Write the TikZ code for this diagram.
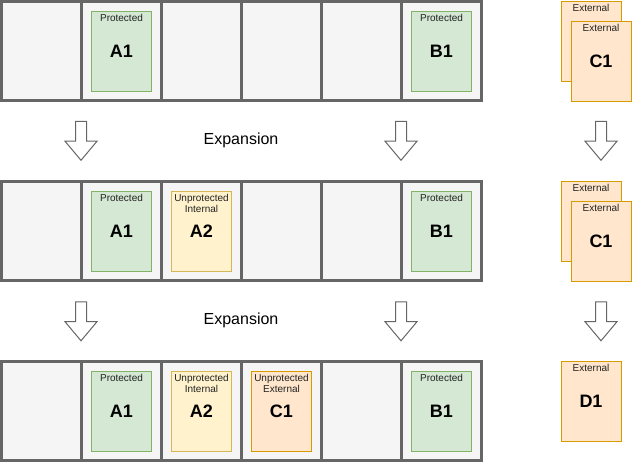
\documentclass[tikz,border=0pt]{standalone}
\usepackage{fontspec}
\setmainfont{Liberation Sans}
\usetikzlibrary{positioning}
\usetikzlibrary{shapes.arrows}
\definecolor{cellfill}{HTML}{F5F5F5}
\definecolor{celldraw}{HTML}{666666}
\definecolor{protfill}{HTML}{D5E8D4}
\definecolor{protdraw}{HTML}{82B366}
\definecolor{intfill}{HTML}{FFF2CC}
\definecolor{intdraw}{HTML}{D6B656}
\definecolor{extfill}{HTML}{FFE6CC}
\definecolor{extdraw}{HTML}{D79B00}
\definecolor{tagtext}{HTML}{222222}
\tikzstyle{cell} = [draw=celldraw,fill=cellfill,line width=3pt,rectangle,minimum width=80pt,minimum height=99pt,inner sep=0pt]
\tikzstyle{card} = [rectangle,line width=1pt,minimum width=60pt,minimum height=80pt,inner sep=0pt,font=\fontsize{18}{20}\selectfont\bfseries]
\tikzstyle{prot} = [card,draw=protdraw,fill=protfill]
\tikzstyle{int} = [card,draw=intdraw,fill=intfill]
\tikzstyle{ext} = [card,draw=extdraw,fill=extfill]
\tikzstyle{tag} = [inner sep=0pt,align=center,text=tagtext,font=\fontsize{10}{11}\selectfont]
\tikzstyle{blockarrow} = [single arrow,draw=celldraw,fill=white,line width=1pt,rotate=-90,
  inner xsep=0pt,inner ysep=5pt,minimum height=39pt,minimum width=31pt,
  single arrow head extend=10.5pt,single arrow tip angle=80]

\begin{document}
\begin{tikzpicture}[x=1pt,y=-1pt]
\useasboundingbox (0,0) rectangle (632,463);

% the three rows of slots
\foreach \r/\y in {1/51,2/231,3/411} {
  \foreach \c in {1,...,6} {
    \node[cell] (r\r c\c) at ({80*\c-38.5},\y) {};
  }
}

% row 1
\node[prot] (a1one) at (r1c2) {A1};
\node[tag, below=3.5pt of a1one.north] (a1onetag) {Protected};
\node[prot] (b1one) at (r1c6) {B1};
\node[tag, below=3.5pt of b1one.north] (b1onetag) {Protected};

% row 2
\node[prot] (a1two) at (r2c2) {A1};
\node[tag, below=3.5pt of a1two.north] (a1twotag) {Protected};
\node[int] (a2two) at (r2c3) {A2};
\node[tag, below=3.5pt of a2two.north] (a2twotag) {Unprotected\\Internal};
\node[prot] (b1two) at (r2c6) {B1};
\node[tag, below=3.5pt of b1two.north] (b1twotag) {Protected};

% row 3
\node[prot] (a1three) at (r3c2) {A1};
\node[tag, below=3.5pt of a1three.north] (a1threetag) {Protected};
\node[int] (a2three) at (r3c3) {A2};
\node[tag, below=3.5pt of a2three.north] (a2threetag) {Unprotected\\Internal};
\node[ext] (c1three) at (r3c4) {C1};
\node[tag, below=3.5pt of c1three.north] (c1threetag) {Unprotected\\External};
\node[prot] (b1three) at (r3c6) {B1};
\node[tag, below=3.5pt of b1three.north] (b1threetag) {Protected};

% external column
\node[ext] (c1oneback) at (591,41) {};
\node[tag, below=3.5pt of c1oneback.north] (c1onebacktag) {External};
\node[ext] (c1one) at (601,61) {C1};
\node[tag, below=3.5pt of c1one.north] (c1onetag) {External};

\node[ext] (c1twoback) at (591,221) {};
\node[tag, below=3.5pt of c1twoback.north] (c1twobacktag) {External};
\node[ext] (c1two) at (601,241) {C1};
\node[tag, below=3.5pt of c1two.north] (c1twotag) {External};

\node[ext] (d1) at (591,401) {D1};
\node[tag, below=3.5pt of d1.north] (d1tag) {External};

% expansion steps
\foreach \n/\x in {l/81,m/401,r/601} {
  \node[blockarrow] (arrone\n) at (\x,137.5) {};
  \node[blockarrow] (arrtwo\n) at (\x,318) {};
}
\node[font=\fontsize{16}{18}\selectfont] (expone) at (241,140) {Expansion};
\node[font=\fontsize{16}{18}\selectfont] (exptwo) at (241,320) {Expansion};
\end{tikzpicture}
\end{document}
